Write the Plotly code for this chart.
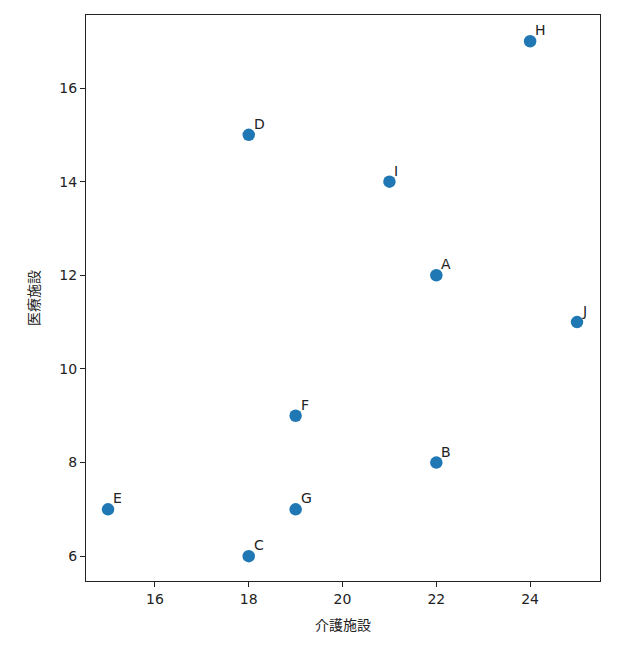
import plotly.graph_objects as go

labels = ["A", "B", "C", "D", "E", "F", "G", "H", "I", "J"]
kaigo = [22, 22, 18, 18, 15, 19, 19, 24, 21, 25]
iryo = [12, 8, 6, 15, 7, 9, 7, 17, 14, 11]

fig = go.Figure()
fig.add_trace(go.Scatter(
    x=kaigo, y=iryo, mode="markers",
    marker=dict(size=12.5, color="#1f77b4"),
    cliponaxis=False,
))
for lb, xv, yv in zip(labels, kaigo, iryo):
    fig.add_annotation(x=xv, y=yv, text=lb, showarrow=False,
                       xanchor="left", yanchor="bottom", xshift=3, yshift=1,
                       font=dict(family="DejaVu Sans", size=14, color="#222222"))

axis_common = dict(
    showgrid=False, zeroline=False, showline=True, linecolor="#222222", linewidth=1,
    mirror=True, ticks="outside", ticklen=5, tickcolor="#222222",
    tickfont=dict(family="DejaVu Sans", size=14, color="#222222"),
)
fig.update_layout(
    width=627, height=648,
    margin=dict(l=78, r=35, t=7, b=75),
    plot_bgcolor="white", paper_bgcolor="white",
    showlegend=False,
    xaxis=dict(range=[14.53, 25.49], dtick=2, tick0=16,
               title=dict(text="介護施設", font=dict(family="Noto Sans CJK JP", size=14, color="#222222"), standoff=14),
               **axis_common),
    yaxis=dict(range=[5.47, 17.56], dtick=2, tick0=6,
               title=dict(text="医療施設", font=dict(family="Noto Sans CJK JP", size=14, color="#222222"), standoff=16),
               **axis_common),
)
fig.write_html("out.html")
